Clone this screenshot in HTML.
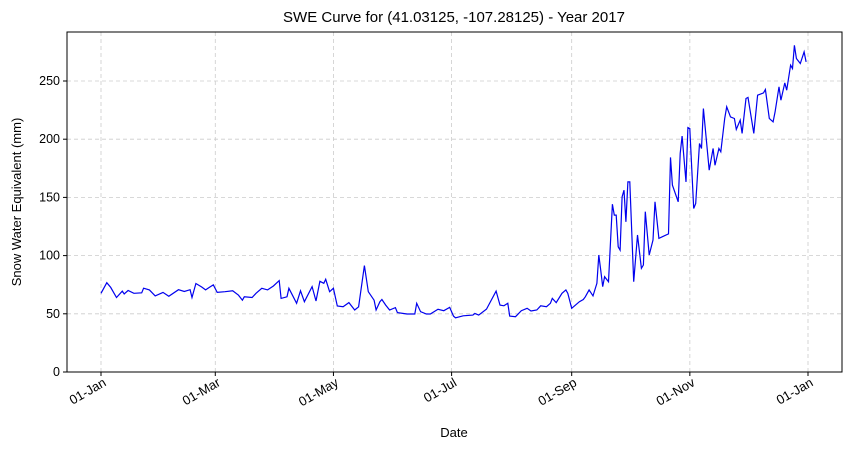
<!DOCTYPE html>
<html><head><meta charset="utf-8"><style>
body{margin:0;background:#fff;font-family:"Liberation Sans","DejaVu Sans",sans-serif}
</style></head><body>
<svg id="chart" width="850" height="449" viewBox="0 0 850 449" xmlns="http://www.w3.org/2000/svg">
<rect width="850" height="449" fill="#fff"/>
<text x="454" y="22" text-anchor="middle" font-size="15">SWE Curve for (41.03125, -107.28125) - Year 2017</text>
<g id="grid"></g>
<g id="axes"></g>
<path id="line" fill="none" stroke="#0000ee" stroke-width="1.2"/>
<rect x="67" y="32" width="775" height="340" fill="none" stroke="#000" stroke-width="1"/>
<text x="454" y="437" text-anchor="middle" font-size="13">Date</text>
<text x="0" y="0" transform="translate(21,202) rotate(-90)" text-anchor="middle" font-size="13">Snow Water Equivalent (mm)</text>
</svg>
<script>
const days=[0,3,5,8,11,12,14,17,21,22,25,28,32,35,40,43,46,47,49,52,54,56,58,60,64,68,71,73,74,78,80,83,86,89,92,93,96,97,101,103,105,109,111,113,115,116,118,120,122,125,128,131,133,136,138,141,142,144,145,147,149,152,153,158,162,163,165,168,170,174,177,180,182,183,187,192,193,195,199,204,206,208,210,211,214,217,220,222,225,227,230,232,233,235,238,240,241,243,247,249,250,252,254,256,257,258,259,260,262,264,265,266,267,268,269,270,271,272,273,275,277,279,280,281,283,285,286,288,290,293,294,295,298,299,300,302,303,304,306,307,309,310,311,314,316,317,319,320,322,323,325,327,328,330,331,333,334,337,339,342,343,345,347,348,350,351,353,354,356,357,358,359,361,363,364];
const swe=[67.6,76.7,72.7,64,69.5,67,70,67.6,68,72,70.5,65.4,68.4,65,70.7,69.2,70.7,64,76,73,70.5,72.8,74.8,68.4,69,69.8,66,61.7,64.6,64,67.6,71.9,70.5,73.9,78.5,63.2,64.6,71.9,59,69.8,60.4,73.4,61,77.9,76.2,79.6,69,71.9,56.7,56.1,59.6,53.3,56,91.4,69,61.7,53.3,60.4,62.3,57.5,53.3,55.3,51,49.8,49.8,59,51.8,49.8,49.8,53.9,52.7,55.5,48,46.6,48.3,48.9,50.3,48.9,54,69.5,57.5,56.9,59,48,47.5,52.7,54.7,52.4,53.3,56.9,56.1,59,63.2,59.6,67.6,70.5,67.6,54.7,60.4,62.3,64.6,70.5,65.4,76.2,100.5,87.7,73.3,81.9,77.6,144.2,134.8,134.8,107.6,104.7,150.5,156.2,129,163.3,163.3,77.6,117.7,89.1,91.9,137.7,100.5,113.4,146.2,114.8,116.3,118.6,184.4,160.6,146.2,187.8,202.7,163.3,210,209.2,140.5,144.8,196.3,192,226.4,173.4,192,177.6,192,189.2,217.8,227.8,219.2,217.8,208.4,216.4,205,235,235.9,205,237.8,239.8,242.7,217.8,214.9,223.5,245,233.5,248.4,242.1,263.6,260.7,280.7,269.3,265,275,266.4];
const yTicks=[0,50,100,150,200,250];
const xTickDays=[0,59,120,181,243,304,365];
const xTickLabels=["01-Jan","01-Mar","01-May","01-Jul","01-Sep","01-Nov","01-Jan"];
const NS='http://www.w3.org/2000/svg';
const X=d=>101+d*1.937;
const Y=v=>372-v*1.164;
const grid=document.getElementById('grid'),axes=document.getElementById('axes');
function mk(tag,attrs,parent){const e=document.createElementNS(NS,tag);for(const k in attrs)e.setAttribute(k,attrs[k]);parent.appendChild(e);return e;}
yTicks.forEach(v=>{
 const g=mk('line',{x1:67,x2:842,y1:Y(v),y2:Y(v),stroke:'#ccc','stroke-dasharray':'4,3','stroke-width':0.8},grid);
 
 
 const t=mk('line',{x1:63,x2:67,y1:Y(v),y2:Y(v),stroke:'#000'},axes);
 
 
 const l=mk('text',{x:60,y:Y(v)+4,'text-anchor':'end','font-size':12.5},axes);
 l.textContent=v;
 
 
});
xTickDays.forEach((d,i)=>{
 const g=mk('line',{x1:X(d),x2:X(d),y1:32,y2:372,stroke:'#ccc','stroke-dasharray':'4,3','stroke-width':0.8},grid);
 
 
 const t=mk('line',{x1:X(d),x2:X(d),y1:372,y2:376,stroke:'#000'},axes);
 
 
 const l=mk('text',{x:0,y:0,'text-anchor':'end','font-size':13,transform:`translate(${X(d)+6},${385}) rotate(-30)`},axes);
 l.textContent=xTickLabels[i];
 
 
});
document.getElementById('line').setAttribute('d',days.map((d,i)=>(i?'L':'M')+X(d).toFixed(1)+','+Y(swe[i]).toFixed(1)).join(''));
</script>
</body></html>
